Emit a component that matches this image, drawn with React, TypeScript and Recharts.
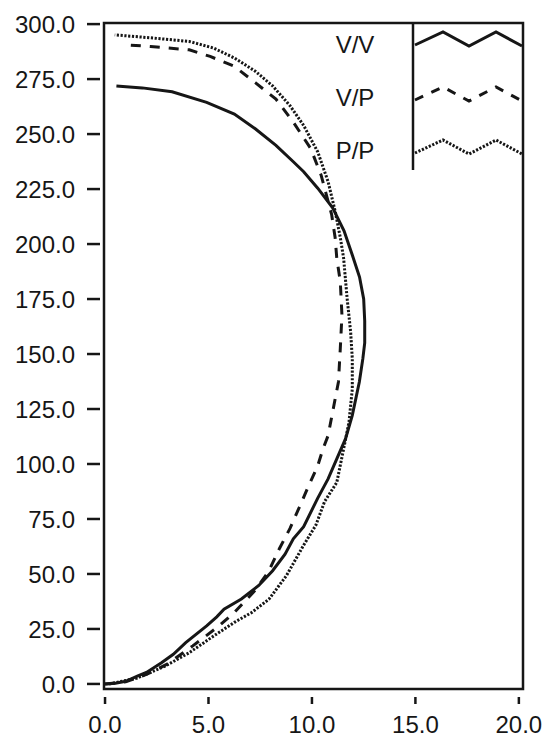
import React from 'react';
import { LineChart, Line, XAxis, YAxis, ReferenceArea } from 'recharts';

// cumulative profiles, each traced from the origin up to its top end
const vvX = [0, 0.5, 1.0, 1.56, 2.0, 2.73, 3.3, 3.9, 4.91, 5.4, 5.75, 6.59, 7.43, 8.1, 8.7, 9.1, 9.6, 10.28, 10.78, 11.2, 11.62, 11.95, 12.29, 12.46, 12.55, 12.55, 12.5, 12.3, 11.95, 11.55, 11.0, 10.28, 9.6, 9.1, 8.26, 7.26, 6.25, 4.91, 3.24, 1.8, 0.55];
const vvY = [0, 0.3, 1.2, 3.5, 5.2, 9.6, 13.5, 18.8, 26.4, 30.5, 34, 38.6, 44.8, 51.5, 59, 66, 71.5, 84.5, 93.2, 102.3, 111.4, 122.1, 137.3, 147.9, 155, 165, 175, 185, 195, 206, 216.5, 225.4, 232.9, 237.4, 244.9, 252.4, 259.1, 264.4, 269.2, 271, 271.9];

const vpX = [0, 1.0, 2.0, 3.0, 4.24, 5.42, 6.25, 7.2, 7.9, 8.43, 8.94, 9.44, 9.77, 10.28, 10.53, 10.78, 11.03, 11.28, 11.37, 11.45, 11.37, 11.2, 11.12, 10.95, 10.44, 9.94, 9.1, 8.26, 7.26, 6.25, 5.08, 4.07, 2.2, 0.97];
const vpY = [0, 1.0, 4.3, 9.0, 17.3, 25.7, 32.5, 42, 51, 61.6, 70.7, 81.4, 88.6, 99.2, 106.8, 112.9, 125.1, 137.3, 152.5, 167.7, 182.9, 193.6, 203, 213.5, 231.4, 243.4, 255.4, 265.9, 273.4, 280.8, 285.3, 288.3, 289.8, 290.6];

const ppX = [0.2, 1.56, 2.9, 4.07, 5.25, 6.25, 7.09, 7.93, 8.77, 9.6, 10.19, 10.61, 11.2, 11.53, 11.79, 11.95, 11.95, 11.87, 11.7, 11.53, 11.37, 11.12, 10.78, 10.28, 9.6, 8.94, 8.1, 7.26, 6.25, 5.25, 4.07, 2.4, 0.47];
const ppY = [0, 2.7, 8.1, 14.2, 21.8, 28, 32.5, 38.6, 49.3, 63.1, 72.2, 82.9, 91.6, 106.8, 119, 134.2, 147.9, 160.1, 175.3, 193.6, 203, 215, 228.4, 241.9, 253.9, 262.9, 271.9, 278.6, 284.6, 289.1, 292.1, 293.6, 295.1];

const xTicks = [0, 5, 10, 15, 20];
const yTicks = [0, 25, 50, 75, 100, 125, 150, 175, 200, 225, 250, 275, 300];
const seriesNames = ['V/V', 'V/P', 'P/P'];

const toPoints = (xs: number[], ys: number[]) => xs.map((x, i) => ({ x, y: ys[i] }));
const vvData = toPoints(vvX, vvY);
const vpData = toPoints(vpX, vpY);
const ppData = toPoints(ppX, ppY);

const X_DOMAIN: [number, number] = [-0.05, 20.2];
const Y_DOMAIN: [number, number] = [-2.3, 300.5];
const FONT = '"Liberation Sans", Arial, sans-serif';
const INK = '#161616';

const YTick = (props: any) => {
  const { x, y, payload } = props;
  return (
    <g>
      <line x1={x - 17} x2={x - 4} y1={y} y2={y} stroke={INK} strokeWidth={2.5} />
      <text x={x - 29} y={y} dy="0.36em" textAnchor="end" fontSize={24} fill={INK} fontFamily={FONT}>
        {Number(payload.value).toFixed(1)}
      </text>
    </g>
  );
};

const XTick = (props: any) => {
  const { x, y, payload } = props;
  return (
    <g>
      <line x1={x} x2={x} y1={y + 8} y2={y + 15} stroke={INK} strokeWidth={2.5} />
      <text x={x} y={y + 35} dy="0.36em" textAnchor="middle" fontSize={24} fill={INK} fontFamily={FONT}>
        {Number(payload.value).toFixed(1)}
      </text>
    </g>
  );
};

// key box in the upper right: labels plus zigzag line samples
const KeyBox = () => {
  const zig = (y0: number) =>
    `M415,${y0} L443,${y0 - 13} L469,${y0 + 1} L496,${y0 - 13} L522,${y0 + 1}`;
  const styles = [
    { dash: undefined, y: 45, ty: 44 },
    { dash: '9 9', y: 100, ty: 97 },
    { dash: '2.2 1.6', y: 153, ty: 150 },
  ];
  return (
    <svg width={542} height={200} style={{ position: 'absolute', left: 0, top: 0, pointerEvents: 'none' }}>
      <line x1={413} x2={413} y1={23} y2={170} stroke={INK} strokeWidth={2.5} />
      {styles.map((s, i) => (
        <g key={seriesNames[i]}>
          <path d={zig(s.y)} fill="none" stroke={INK} strokeWidth={3} strokeDasharray={s.dash} />
          <text x={355} y={s.ty} dy="0.36em" textAnchor="middle" fontSize={24} fill={INK} fontFamily={FONT}>
            {seriesNames[i]}
          </text>
        </g>
      ))}
    </svg>
  );
};

export default function App() {
  return (
    <div style={{ position: 'absolute', left: 0, top: 0, width: 542, height: 737, background: '#fff', fontFamily: FONT }}>
      <LineChart width={542} height={737} margin={{ top: 23, right: 19, left: 0, bottom: 0 }}>
        <XAxis
          type="number"
          dataKey="x"
          domain={X_DOMAIN}
          ticks={xTicks}
          allowDataOverflow
          axisLine={false}
          tickLine={false}
          tickSize={0}
          tickMargin={0}
          height={48}
          tick={<XTick />}
          interval={0}
        />
        <YAxis
          type="number"
          dataKey="y"
          domain={Y_DOMAIN}
          ticks={yTicks}
          allowDataOverflow
          axisLine={false}
          tickLine={false}
          tickSize={0}
          tickMargin={0}
          width={104}
          tick={<YTick />}
          interval={0}
        />
        <ReferenceArea
          x1={X_DOMAIN[0]}
          x2={X_DOMAIN[1]}
          y1={Y_DOMAIN[0]}
          y2={Y_DOMAIN[1]}
          fill="none"
          stroke={INK}
          strokeWidth={2.5}
          ifOverflow="visible"
        />
        <Line data={ppData} dataKey="y" name="P/P" type="linear" stroke={INK} strokeWidth={3} strokeDasharray="2.2 1.6" dot={false} isAnimationActive={false} />
        <Line data={vpData} dataKey="y" name="V/P" type="linear" stroke={INK} strokeWidth={3} strokeDasharray="10 9" dot={false} isAnimationActive={false} />
        <Line data={vvData} dataKey="y" name="V/V" type="linear" stroke={INK} strokeWidth={3} dot={false} isAnimationActive={false} />
      </LineChart>
      <KeyBox />
    </div>
  );
}
